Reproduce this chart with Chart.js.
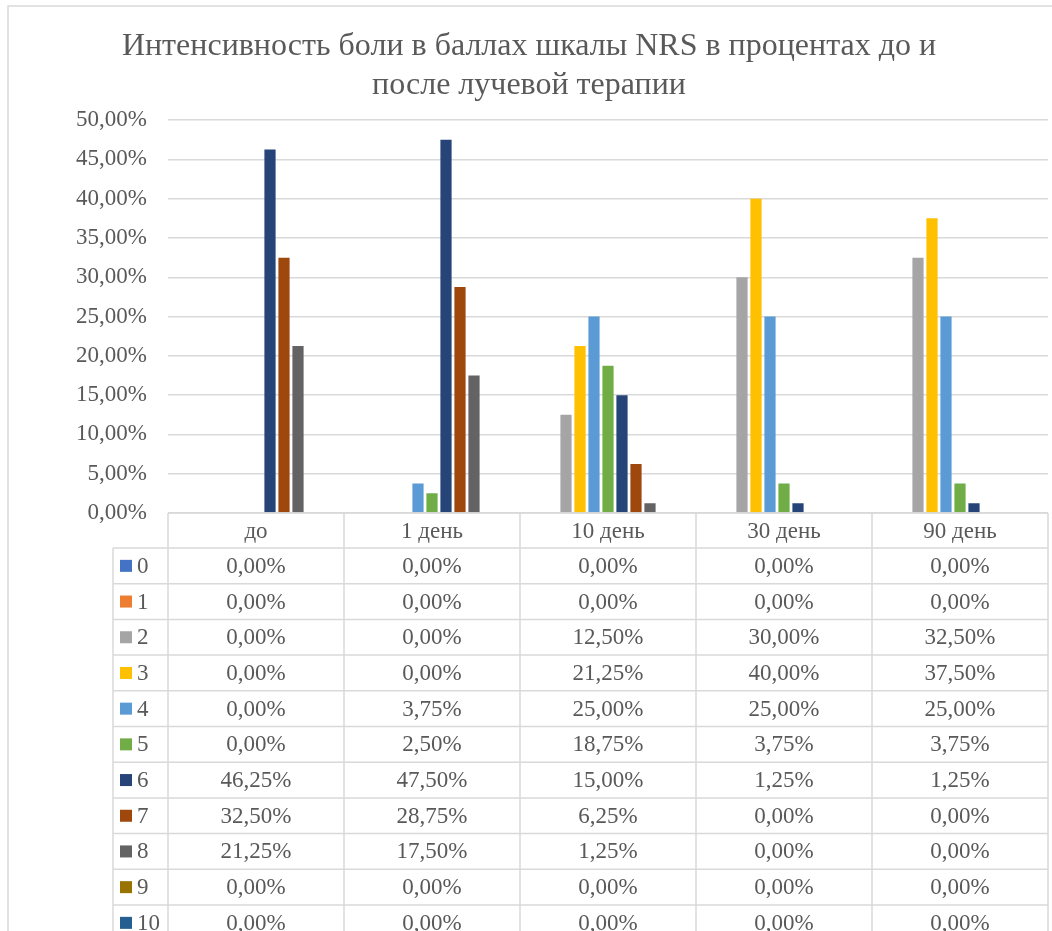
<!DOCTYPE html>
<html lang="ru">
<head>
<meta charset="utf-8">
<title>Интенсивность боли NRS</title>
<script src="https://cdn.jsdelivr.net/npm/chart.js@4.4.1/dist/chart.umd.min.js"></script>
<style>
  html, body { margin: 0; padding: 0; background: #fff; }
  canvas { display: block; }
</style>
</head>
<body>
<canvas id="nrsChart" width="1052" height="931"></canvas>
<script>
// данные из таблицы (в процентах)
const categories = ['до', '1 день', '10 день', '30 день', '90 день'];
const scoreLabels = ['0', '1', '2', '3', '4', '5', '6', '7', '8', '9', '10'];

const score0 = [0, 0, 0, 0, 0];
const score1 = [0, 0, 0, 0, 0];
const score2 = [0, 0, 12.5, 30, 32.5];
const score3 = [0, 0, 21.25, 40, 37.5];
const score4 = [0, 3.75, 25, 25, 25];
const score5 = [0, 2.5, 18.75, 3.75, 3.75];
const score6 = [46.25, 47.5, 15, 1.25, 1.25];
const score7 = [32.5, 28.75, 6.25, 0, 0];
const score8 = [21.25, 17.5, 1.25, 0, 0];
const score9 = [0, 0, 0, 0, 0];
const score10 = [0, 0, 0, 0, 0];

const yMax = 50;
const yStep = 5;

const titleLines = ['Интенсивность боли в баллах шкалы NRS в процентах до и', 'после лучевой терапии'];

const scoreColors = [
    '#4472C4', '#ED7D31', '#A5A5A5', '#FFC000', '#5B9BD5', '#70AD47',
    '#264478', '#9E480E', '#636363', '#997300', '#255E91'
];

const series = [score0, score1, score2, score3, score4, score5, score6, score7, score8, score9, score10];

const textColor = '#595959';
const lineColor = '#d9d9d9';
const fontFamily = "'Liberation Serif', 'Times New Roman', serif";

const fmt = v => v.toFixed(2).replace('.', ',') + '%';

// таблица данных под графиком, рисуется по шкале X
const dataTable = {
    id: 'dataTable',
    beforeDraw(chart) {
        const c = chart.ctx;
        c.save();
        c.strokeStyle = lineColor;
        c.lineWidth = 1.5;
        c.beginPath();
        c.moveTo(8, chart.height + 5);
        c.lineTo(8, 6);
        c.lineTo(chart.width + 5, 6);
        c.stroke();
        c.restore();
    },
    afterDraw(chart) {
        const c = chart.ctx;
        const area = chart.chartArea;
        const x = chart.scales.x;
        const colW = (area.right - area.left) / categories.length;
        const top = area.bottom;
        const headerH = 35;
        const rowH = 35.7;
        const legendLeft = 113;
        const bodyTop = top + headerH;
        const bottom = chart.height + 2;

        c.save();
        c.strokeStyle = lineColor;
        c.lineWidth = 1.5;
        c.beginPath();
        // вертикальные линии
        for (let i = 0; i <= categories.length; i++) {
            const lx = area.left + i * colW;
            c.moveTo(lx, top);
            c.lineTo(lx, bottom);
        }
        c.moveTo(legendLeft, bodyTop);
        c.lineTo(legendLeft, bottom);
        // горизонтальные линии
        c.moveTo(area.left, top);
        c.lineTo(area.right, top);
        for (let r = 0; r <= scoreLabels.length; r++) {
            const ly = bodyTop + r * rowH;
            c.moveTo(legendLeft, ly);
            c.lineTo(area.right, ly);
        }
        c.stroke();

        c.fillStyle = textColor;
        c.font = '23px ' + fontFamily;
        c.textAlign = 'center';
        c.textBaseline = 'middle';
        categories.forEach((cat, i) => {
            c.fillText(cat, x.getPixelForValue(i), top + headerH / 2 + 1);
        });

        scoreLabels.forEach((lab, r) => {
            const cy = bodyTop + r * rowH + rowH / 2 + 1;
            c.fillStyle = scoreColors[r];
            c.fillRect(120, cy - 7, 12, 12);
            c.fillStyle = textColor;
            c.textAlign = 'left';
            c.fillText(lab, 137, cy);
            c.textAlign = 'center';
            series[r].forEach((v, i) => {
                c.fillText(fmt(v), x.getPixelForValue(i), cy);
            });
        });
        c.restore();
    }
};

Chart.defaults.font.family = fontFamily;
Chart.defaults.color = textColor;

const ctx = document.getElementById('nrsChart').getContext('2d');
new Chart(ctx, {
    type: 'bar',
    data: {
        labels: categories,
        datasets: series.map((vals, i) => ({
            label: scoreLabels[i],
            data: vals,
            backgroundColor: scoreColors[i],
            borderWidth: 0,
            barPercentage: 0.8,
            categoryPercentage: 0.875
        }))
    },
    options: {
        responsive: false,
        animation: false,
        layout: {
            padding: { left: 10, right: 4, top: 0, bottom: 410 }
        },
        plugins: {
            legend: { display: false },
            tooltip: { enabled: false },
            title: {
                display: true,
                text: titleLines,
                color: textColor,
                font: { size: 32, weight: 'normal', lineHeight: 1.19 },
                padding: { top: 28, bottom: 16 }
            }
        },
        scales: {
            x: {
                ticks: { display: false },
                grid: { display: false },
                border: { display: false }
            },
            y: {
                min: 0,
                max: yMax,
                ticks: {
                    stepSize: yStep,
                    padding: 21,
                    color: textColor,
                    font: { size: 23 },
                    callback: v => fmt(v)
                },
                grid: { color: lineColor, lineWidth: 1.5, drawTicks: false },
                border: { display: false },
                afterFit(scale) { scale.width = 158; }
            }
        }
    },
    plugins: [dataTable]
});
</script>
</body>
</html>
